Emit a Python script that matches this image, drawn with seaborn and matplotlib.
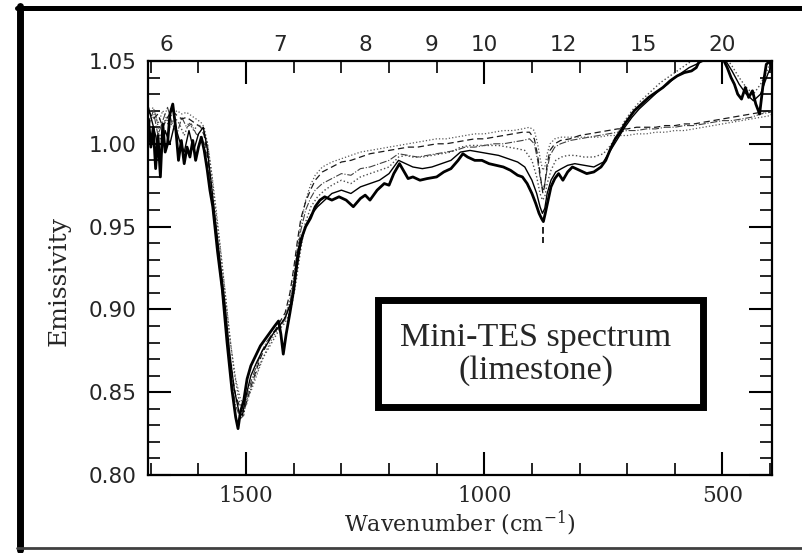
import numpy as np
import matplotlib
matplotlib.use("Agg")
import matplotlib.pyplot as plt
from matplotlib.ticker import MultipleLocator, NullLocator
from matplotlib.patches import Rectangle
from matplotlib.lines import Line2D
import seaborn as sns

# ---------------- data ----------------
wn_a1 = [1705, 1700, 1695, 1690, 1685, 1680, 1675, 1670, 1665, 1660,
         1654, 1648, 1642, 1636, 1630, 1624, 1618, 1612, 1606, 1600,
         1594, 1588, 1582, 1576, 1570, 1560, 1550, 1540, 1530, 1522,
         1517, 1512, 1505, 1498, 1490, 1480, 1470, 1460, 1450, 1440,
         1432, 1427, 1422, 1416, 1408, 1400, 1392, 1385, 1375, 1365,
         1355, 1345, 1335, 1320, 1305, 1290, 1275, 1260, 1250, 1240,
         1225, 1210, 1200, 1190, 1178, 1170, 1160, 1150, 1135, 1120,
         1100, 1085, 1070, 1055, 1045, 1035, 1020, 1005, 990, 975,
         960, 945, 930, 920, 910, 900, 892, 885, 880, 876,
         872, 866, 860, 852, 844, 835, 825, 815, 800, 785,
         770, 755, 745, 735, 725, 715, 705, 695, 685, 670,
         655, 640, 625, 610, 595, 580, 565, 555, 545, 530,
         515, 500, 490, 482, 475, 468, 460, 452, 445, 437,
         430, 422, 415, 408, 400, 396]
em_a1 = [1.015, 0.998, 1.010, 0.985, 1.005, 0.980, 1.012, 0.995, 1.000, 1.018,
         1.024, 1.010, 0.990, 1.002, 0.988, 0.998, 0.992, 1.002, 0.990, 0.998,
         1.004, 0.996, 0.985, 0.972, 0.962, 0.935, 0.912, 0.880, 0.852, 0.835,
         0.828, 0.838, 0.845, 0.858, 0.866, 0.872, 0.878, 0.882, 0.886, 0.890,
         0.893, 0.885, 0.873, 0.885, 0.898, 0.912, 0.932, 0.942, 0.950, 0.955,
         0.962, 0.966, 0.968, 0.966, 0.968, 0.966, 0.962, 0.967, 0.969, 0.966,
         0.972, 0.976, 0.975, 0.982, 0.988, 0.984, 0.979, 0.980, 0.978, 0.979,
         0.980, 0.983, 0.985, 0.990, 0.994, 0.992, 0.990, 0.990, 0.988, 0.987,
         0.986, 0.984, 0.981, 0.980, 0.976, 0.970, 0.964, 0.958, 0.955, 0.953,
         0.958, 0.966, 0.974, 0.979, 0.982, 0.978, 0.983, 0.986, 0.984, 0.982,
         0.983, 0.986, 0.990, 0.997, 1.003, 1.007, 1.012, 1.016, 1.020, 1.024,
         1.028, 1.031, 1.034, 1.038, 1.041, 1.043, 1.044, 1.046, 1.052, 1.055,
         1.054, 1.052, 1.046, 1.040, 1.036, 1.030, 1.027, 1.034, 1.028, 1.032,
         1.024, 1.018, 1.035, 1.048, 1.050, 1.045]

wn_a2 = [1705, 1690, 1680, 1670, 1660, 1650, 1640, 1630, 1620, 1610,
         1600, 1590, 1582, 1574, 1565, 1555, 1545, 1535, 1525, 1515,
         1508, 1500, 1490, 1478, 1466, 1454, 1442, 1430, 1418, 1406,
         1396, 1386, 1376, 1364, 1350, 1335, 1320, 1300, 1280, 1260,
         1240, 1220, 1200, 1180, 1165, 1150, 1130, 1110, 1090, 1070,
         1050, 1030, 1010, 990, 970, 950, 930, 915, 900, 890,
         883, 878, 873, 868, 860, 850, 838, 825, 810, 790,
         770, 750, 735, 720, 705, 690, 675, 660, 645, 630,
         615, 600, 585, 570, 555, 540, 525, 510, 495, 480,
         465, 450, 435, 420, 405, 396]
em_a2 = [1.022, 1.005, 0.990, 1.008, 1.000, 1.012, 1.002, 0.995, 1.008, 0.996,
         1.006, 1.010, 0.998, 0.978, 0.955, 0.930, 0.905, 0.875, 0.852, 0.838,
         0.836, 0.848, 0.860, 0.868, 0.875, 0.880, 0.886, 0.890, 0.895, 0.904,
         0.920, 0.938, 0.950, 0.957, 0.962, 0.966, 0.970, 0.972, 0.970, 0.974,
         0.976, 0.978, 0.982, 0.990, 0.988, 0.986, 0.985, 0.986, 0.988, 0.990,
         0.995, 0.996, 0.995, 0.994, 0.993, 0.991, 0.989, 0.986, 0.978, 0.970,
         0.962, 0.958, 0.961, 0.970, 0.978, 0.983, 0.985, 0.987, 0.988, 0.987,
         0.986, 0.989, 0.996, 1.003, 1.010, 1.016, 1.021, 1.025, 1.029, 1.033,
         1.036, 1.040, 1.043, 1.046, 1.048, 1.050, 1.052, 1.053, 1.051, 1.044,
         1.036, 1.030, 1.026, 1.030, 1.042, 1.048]
em_a3 = [1.012, 1.018, 1.003, 1.015, 1.010, 1.016, 1.012, 1.005, 1.013, 1.008,
         1.012, 1.008, 1.002, 0.985, 0.962, 0.938, 0.912, 0.885, 0.862, 0.845,
         0.840, 0.842, 0.852, 0.862, 0.870, 0.876, 0.882, 0.888, 0.892, 0.900,
         0.915, 0.935, 0.952, 0.962, 0.968, 0.972, 0.975, 0.978, 0.976, 0.980,
         0.982, 0.984, 0.986, 0.992, 0.993, 0.992, 0.992, 0.993, 0.994, 0.995,
         0.998, 0.999, 0.999, 0.999, 0.999, 0.998, 0.997, 0.996, 0.990, 0.980,
         0.970, 0.966, 0.968, 0.976, 0.984, 0.990, 0.992, 0.993, 0.993, 0.992,
         0.992, 0.994, 0.999, 1.006, 1.014, 1.020, 1.025, 1.029, 1.033, 1.037,
         1.040, 1.043, 1.046, 1.049, 1.052, 1.054, 1.055, 1.055, 1.053, 1.047,
         1.040, 1.034, 1.030, 1.036, 1.045, 1.050]

wn_b = [1705, 1695, 1685, 1675, 1665, 1655, 1645, 1635, 1625, 1615, 1605, 1595,
        1588, 1580, 1572, 1562, 1552, 1542, 1532, 1522, 1512, 1505, 1498,
        1488, 1478, 1468, 1458, 1448, 1438, 1428, 1418, 1408, 1400,
        1392, 1385, 1375, 1365, 1355, 1340,
        1320, 1300, 1280, 1260, 1240, 1220, 1200, 1180, 1160, 1140, 1120,
        1100, 1080, 1060, 1040, 1020, 1000, 980, 960, 940, 920,
        905, 895, 888, 882, 877, 873, 868, 862, 852, 840,
        820, 800, 780, 760, 740, 720, 700, 680, 660, 640, 620,
        600, 580, 560, 540, 520, 500, 480, 460, 440, 420, 400, 396]
em_b1 = [1.020, 1.015, 1.018, 1.010, 1.016, 1.020, 1.017, 1.015, 1.016, 1.014, 1.012, 1.010,
         1.005, 0.990, 0.972, 0.945, 0.920, 0.892, 0.865, 0.848, 0.840, 0.838, 0.845,
         0.855, 0.864, 0.872, 0.878, 0.884, 0.888, 0.893, 0.898, 0.910, 0.925,
         0.942, 0.955, 0.965, 0.972, 0.978, 0.983,
         0.986, 0.989, 0.990, 0.992, 0.994, 0.995, 0.996, 0.997, 0.998, 0.998, 0.999,
         1.000, 1.000, 1.001, 1.002, 1.003, 1.003, 1.004, 1.005, 1.006, 1.007,
         1.007, 1.003, 0.993, 0.980, 0.970, 0.975, 0.988, 0.996, 1.000, 1.002,
         1.003, 1.005, 1.006, 1.007, 1.008, 1.009, 1.009, 1.010, 1.010, 1.010, 1.011,
         1.011, 1.012, 1.012, 1.013, 1.014, 1.015, 1.016, 1.017, 1.018, 1.019, 1.020, 1.021]
em_b2 = [1.018, 1.022, 1.012, 1.020, 1.014, 1.018, 1.020, 1.018, 1.019, 1.017, 1.015, 1.013,
         1.010, 0.998, 0.982, 0.958, 0.932, 0.905, 0.878, 0.858, 0.846, 0.842, 0.846,
         0.852, 0.860, 0.868, 0.875, 0.881, 0.886, 0.890, 0.896, 0.906, 0.920,
         0.938, 0.952, 0.966, 0.975, 0.981, 0.986,
         0.989, 0.991, 0.993, 0.995, 0.996, 0.997, 0.998, 0.999, 1.000, 1.001, 1.002,
         1.003, 1.003, 1.004, 1.005, 1.006, 1.006, 1.007, 1.008, 1.008, 1.009,
         1.010, 1.008, 1.000, 0.990, 0.984, 0.986, 0.994, 1.000, 1.003, 1.004,
         1.004, 1.004, 1.004, 1.004, 1.005, 1.005, 1.005, 1.006, 1.006, 1.007, 1.007,
         1.008, 1.008, 1.009, 1.010, 1.011, 1.012, 1.013, 1.014, 1.015, 1.016, 1.017, 1.018]
em_b3 = [1.010, 1.020, 1.005, 1.014, 1.022, 1.012, 1.006, 1.016, 1.010, 1.012, 1.006, 1.004,
         1.000, 0.985, 0.966, 0.940, 0.915, 0.888, 0.860, 0.842, 0.834, 0.836, 0.848,
         0.858, 0.866, 0.874, 0.880, 0.884, 0.887, 0.890, 0.894, 0.904, 0.918,
         0.935, 0.948, 0.960, 0.967, 0.972, 0.976,
         0.979, 0.982, 0.981, 0.985, 0.986, 0.988, 0.990, 0.994, 0.993, 0.992, 0.993,
         0.994, 0.995, 0.996, 0.998, 0.998, 0.999, 1.000, 1.000, 1.001, 1.002,
         1.003, 1.000, 0.990, 0.978, 0.972, 0.976, 0.985, 0.993, 0.998, 1.000,
         1.002, 1.003, 1.004, 1.005, 1.006, 1.007, 1.008, 1.008, 1.009, 1.009, 1.010,
         1.010, 1.011, 1.011, 1.012, 1.013, 1.014, 1.014, 1.015, 1.016, 1.018, 1.019, 1.020]

band_wn = [876, 876]
band_em = [0.950, 0.940]

x_major = [1500, 1000, 500]
y_major = [0.80, 0.85, 0.90, 0.95, 1.00, 1.05]
top_um = [6, 7, 8, 9, 10, 12, 15, 20]
top_labels = ["6", "7", "8", "9", "10", "12", "15", "20"]

# ---------------- figure ----------------
sns.set_style("ticks")
plt.rcParams["font.family"] = ["DejaVu Sans"]
plt.rcParams["mathtext.fontset"] = "dejavuserif"

W, H = 803, 553
fig = plt.figure(figsize=(W / 100, H / 100), dpi=100)
L, R, T, B = 148, 772, 61, 475
ax = fig.add_axes([L / W, 1 - B / H, (R - L) / W, (B - T) / H])

series = [
    (wn_b, em_b3, dict(color="0.25", lw=0.8, linestyle="-.")),
    (wn_b, em_b2, dict(color="0.35", lw=0.9, linestyle=":")),
    (wn_b, em_b1, dict(color="0.1", lw=0.9, linestyle=(0, (5, 3)))),
    (wn_a2, em_a3, dict(color="0.3", lw=1.0, linestyle=":")),
    (wn_a2, em_a2, dict(color="black", lw=1.0, linestyle="-")),
    (wn_a1, em_a1, dict(color="black", lw=2.0, linestyle="-")),
]
for xs, ys, kw in series:
    sns.lineplot(x=xs, y=ys, ax=ax, sort=False, estimator=None, **kw)
sns.lineplot(x=band_wn, y=band_em, ax=ax, sort=False, estimator=None,
             color="black", lw=1.2, linestyle=(0, (4, 2)))

ax.set_xlim(1706, 396)
ax.set_ylim(0.80, 1.05)
ax.set_xticks(x_major)
ax.set_xticklabels([str(v) for v in x_major])
ax.xaxis.set_minor_locator(MultipleLocator(100))
ax.set_yticks(y_major)
ax.set_yticklabels([f"{v:.2f}" for v in y_major])
ax.yaxis.set_minor_locator(MultipleLocator(0.01))

ax.tick_params(which="major", direction="in", length=16.5, width=1.5,
               top=True, right=True, color="black")
ax.tick_params(which="minor", direction="in", length=8.5, width=1.2,
               top=True, right=True, color="black")
ax.tick_params(axis="x", which="major", labelsize=15.5, pad=7)
ax.tick_params(axis="y", which="major", labelsize=15.5, pad=8)
plt.setp(ax.get_xticklabels(), family="DejaVu Serif")
for s in ax.spines.values():
    s.set_linewidth(1.6)
    s.set_color("black")


def conv(x):
    x = np.asarray(x, dtype=float)
    with np.errstate(divide="ignore"):
        return 1e4 / x


sec = ax.secondary_xaxis("top", functions=(conv, conv))
sec.set_xticks(top_um)
sec.set_xticklabels(top_labels)
sec.xaxis.set_minor_locator(NullLocator())
sec.tick_params(length=0, pad=4, labelsize=15.5)
sec.spines["top"].set_visible(False)

ax.set_xlabel("Wavenumber (cm$^{-1}$)", family="DejaVu Serif", fontsize=16,
              va="top")
ax.xaxis.set_label_coords(0.5, (B - 508) / (B - T))
ax.set_ylabel("Emissivity", family="DejaVu Serif", fontsize=18, va="center")
ax.yaxis.set_label_coords(-0.142, 0.469)

# annotation box
bx0, by0, bx1, by1 = 378.5, 300, 703.5, 407
fig.add_artist(Rectangle((bx0 / W, 1 - by1 / H), (bx1 - bx0) / W, (by1 - by0) / H,
                         transform=fig.transFigure, facecolor="white",
                         edgecolor="black", lw=5, zorder=5))
fig.text(536 / W, 1 - 354 / H, "Mini-TES spectrum\n(limestone)",
         family="Liberation Serif", fontsize=24.5, ha="center", va="center",
         ma="center", linespacing=1.1, zorder=6)

# outer frame of the panel
fig.add_artist(Line2D([17 / W, 1.0], [1 - 8 / H, 1 - 8 / H], transform=fig.transFigure,
                      color="black", lw=3.6))
fig.add_artist(Line2D([20 / W, 20 / W], [1 - 6 / H, 1 - 550 / H], transform=fig.transFigure,
                      color="black", lw=5))
fig.add_artist(Line2D([17 / W, 1.0], [1 - 548 / H, 1 - 548 / H], transform=fig.transFigure,
                      color="0.25", lw=2))

fig.savefig("out.png", dpi=100)
